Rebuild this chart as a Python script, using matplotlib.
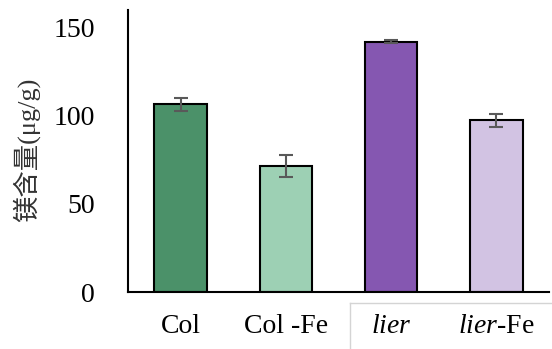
import matplotlib.pyplot as plt
from matplotlib.lines import Line2D

# magnesium content per genotype / treatment
categories = ['Col', 'Col -Fe', r'$\mathit{lier}$', r'$\mathit{lier}$-Fe']
values = [106.5, 71.5, 142.0, 97.5]
errors = [3.8, 6.0, 1.0, 3.7]
colors = ['#4b9169', '#9dd0b4', '#8557b1', '#d2c3e3']
yticks = [0, 50, 100, 150]

plt.rcParams['font.family'] = ['Liberation Serif', 'Noto Sans CJK SC']
plt.rcParams['mathtext.fontset'] = 'custom'
plt.rcParams['mathtext.rm'] = 'Liberation Serif'
plt.rcParams['mathtext.it'] = 'Liberation Serif:italic'

fig = plt.figure(figsize=(5.52, 3.49), dpi=100)
ax = fig.add_axes([128 / 552, 1 - 292 / 349, 421 / 552, 282 / 349])

x = range(len(categories))
ax.bar(x, values, width=0.5, color=colors, edgecolor='black', linewidth=1.5,
       yerr=errors, capsize=5,
       error_kw=dict(ecolor='#595959', elinewidth=1.5, capthick=1.5))

ax.set_xlim(-0.5, 3.5)
ax.set_ylim(0, 160)
ax.set_yticks(yticks)
ax.set_xticks(list(x))
ax.set_xticklabels(categories)
ax.tick_params(axis='y', length=0, pad=24, labelsize=20)
ax.tick_params(axis='x', length=0, pad=16, labelsize=20)

for side in ['top', 'right']:
    ax.spines[side].set_visible(False)
for side in ['left', 'bottom']:
    ax.spines[side].set_linewidth(1.5)

fig.text(26 / 552, 1 - 150 / 349, '镁含量(μg/g)', rotation=90,
         ha='center', va='center', fontsize=19, color='#333333')

# thin light frame lines in the lower right corner
fig.add_artist(Line2D([350 / 552, 1], [1 - 303 / 349] * 2,
                      transform=fig.transFigure, color='#d4d4d4', lw=1))
fig.add_artist(Line2D([350 / 552] * 2, [0, 1 - 303 / 349],
                      transform=fig.transFigure, color='#d4d4d4', lw=1))

fig.savefig('out.png', dpi=100)
